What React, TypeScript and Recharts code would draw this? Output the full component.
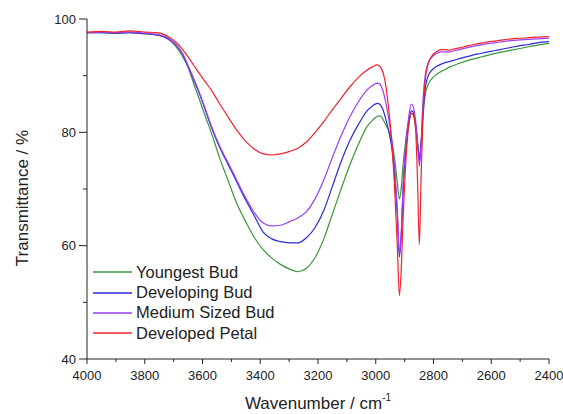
import { Line, LineChart, XAxis, YAxis } from "recharts";

// wavenumber grid (cm-1), shared by all four spectra
const wavenumbers = [
  4000, 3950, 3900, 3850, 3800, 3760, 3730, 3710, 3690, 3670,
  3650, 3630, 3610, 3590, 3570, 3540, 3510, 3480, 3450, 3420,
  3390, 3360, 3330, 3300, 3270, 3240, 3210, 3180, 3150, 3120,
  3090, 3060, 3030, 3010, 2995, 2985, 2975, 2965, 2955, 2945,
  2935, 2925, 2918, 2912, 2905, 2895, 2885, 2877, 2870, 2862,
  2855, 2849, 2843, 2836, 2828, 2818, 2805, 2790, 2775, 2760,
  2745, 2730, 2710, 2680, 2650, 2620, 2590, 2560, 2530, 2500,
  2470, 2440, 2400,
];

const youngestBud = [
  97.6, 97.6, 97.5, 97.6, 97.4, 97.2, 96.8, 96.1, 95.0, 93.5,
  91.5, 88.5, 85.7, 82.8, 80.0, 75.4, 71.3, 67.3, 64.2, 61.4,
  59.3, 57.8, 56.7, 55.9, 55.4, 56.0, 57.9, 61.2, 65.6, 70.0,
  74.2, 77.9, 81.0, 82.2, 82.8, 82.9, 82.3, 81.3, 80.3, 78.5,
  75.5, 71.0, 68.2, 70.0, 74.5, 79.0, 82.0, 83.3, 83.0, 81.0,
  78.0, 75.8, 78.0, 83.0, 86.8, 88.5, 89.5, 90.2, 90.7, 91.1,
  91.5, 91.8, 92.2, 92.7, 93.1, 93.5, 93.9, 94.2, 94.5, 94.8,
  95.1, 95.4, 95.7,
];

const developingBud = [
  97.6, 97.6, 97.5, 97.6, 97.4, 97.2, 96.8, 96.2, 95.3, 93.9,
  91.6, 89.2, 86.7, 83.9, 81.0, 77.3, 74.2, 71.1, 68.0, 65.2,
  62.4, 61.2, 60.7, 60.5, 60.5, 61.4, 63.2, 66.2, 70.5, 74.8,
  78.5, 81.4, 83.8, 84.7, 85.1, 84.9, 84.0, 82.3, 80.2, 77.5,
  72.5, 65.0, 58.0, 61.5, 70.0, 77.5, 81.8, 83.8, 83.6, 81.5,
  78.0, 75.0, 78.0, 84.0, 88.0, 90.0, 91.0, 91.6, 92.0, 92.3,
  92.5, 92.7, 93.0, 93.4, 93.8, 94.1, 94.4, 94.7, 95.0, 95.3,
  95.5, 95.8, 96.0,
];

const mediumSizedBud = [
  97.6, 97.7, 97.6, 97.7, 97.5, 97.3, 96.9, 96.3, 95.4, 94.0,
  91.8, 89.4, 86.9, 84.1, 81.2, 77.5, 74.5, 71.4, 68.4, 65.8,
  64.0, 63.5, 63.6, 64.2, 64.9, 66.0, 68.3, 71.6, 75.6, 79.4,
  82.7, 85.4, 87.5, 88.3, 88.7, 88.5, 87.3, 85.2, 82.4, 79.0,
  74.0, 66.0, 58.5, 62.0, 71.0, 78.5, 83.0, 85.0, 84.5, 82.0,
  78.0, 74.0, 78.0, 86.0, 90.3, 92.3, 93.3, 93.9, 94.2, 94.2,
  94.2, 94.4, 94.6, 95.0, 95.3, 95.6, 95.8, 96.0, 96.2, 96.3,
  96.4, 96.5, 96.6,
];

const developedPetal = [
  97.7, 97.8, 97.7, 97.9, 97.7, 97.6, 97.2, 96.6, 95.8, 94.7,
  93.3, 91.8, 90.3, 88.9, 87.5, 85.0, 82.6, 80.3, 78.4, 77.0,
  76.2, 76.0, 76.2, 76.6, 77.2, 78.3, 80.0, 81.9, 84.0, 86.0,
  88.0, 89.7, 91.0, 91.6, 91.9, 91.6, 90.6, 88.2, 84.0, 78.5,
  70.5, 59.5, 51.2, 55.5, 65.0, 75.5, 81.5, 83.4, 83.3, 80.5,
  71.0, 60.2, 72.0, 83.5, 89.5, 92.2, 93.5, 94.2, 94.6, 94.6,
  94.5, 94.7, 94.9, 95.3, 95.6, 95.9, 96.1, 96.3, 96.5, 96.6,
  96.7, 96.8, 96.9,
];

const xTicks = [4000, 3900, 3800, 3700, 3600, 3500, 3400, 3300, 3200, 3100, 3000, 2900, 2800, 2700, 2600, 2500, 2400];
const yTicks = [40, 50, 60, 70, 80, 90, 100];

const series = [
  { key: "young", name: "Youngest Bud", color: "#3a963a" },
  { key: "developing", name: "Developing Bud", color: "#2b2bd6" },
  { key: "medium", name: "Medium Sized Bud", color: "#9a3cf2" },
  { key: "petal", name: "Developed Petal", color: "#f2222c" },
];

const data = wavenumbers.map((wn, i) => ({
  wn,
  young: youngestBud[i],
  developing: developingBud[i],
  medium: mediumSizedBud[i],
  petal: developedPetal[i],
}));

const FONT = "'Liberation Sans', Arial, sans-serif";
const INK = "#222";

const YTick = (props: any) => {
  const { x, y, payload } = props;
  const major = payload.value % 20 === 0;
  return (
    <g>
      <line x1={x} x2={x - (major ? 8 : 4)} y1={y} y2={y} stroke={INK} />
      {major && (
        <text x={x - 11} y={y} dy={4.5} textAnchor="end" fontSize={13} fontFamily={FONT} fill={INK}>
          {payload.value}
        </text>
      )}
    </g>
  );
};

const XTick = (props: any) => {
  const { x, y, payload } = props;
  const major = payload.value % 200 === 0;
  return (
    <g>
      <line x1={x} x2={x} y1={y} y2={y + (major ? 5 : 3)} stroke={INK} />
      {major && (
        <text x={x} y={y + 20.5} textAnchor="middle" fontSize={13} fontFamily={FONT} fill={INK}>
          {payload.value}
        </text>
      )}
    </g>
  );
};

export default function App() {
  return (
    <div style={{ position: "absolute", left: 0, top: 0, width: 563, height: 414, background: "#fff" }}>
      <LineChart width={563} height={414} data={data} margin={{ top: 19, right: 14, bottom: 0, left: 0 }}>
        <XAxis
          dataKey="wn"
          type="number"
          domain={[2400, 4000]}
          reversed
          ticks={xTicks}
          interval={0}
          height={55}
          tickSize={0}
          tickMargin={0}
          tickLine={false}
          axisLine={{ stroke: INK }}
          tick={<XTick />}
          label={{
            content: (lp: any) => {
              const vb = lp.viewBox;
              return (
                <text x={vb.x + vb.width / 2} y={vb.y + vb.height - 5} textAnchor="middle" fontSize={17} fontFamily={FONT} fill={INK}>
                  Wavenumber / cm
                  <tspan fontSize={10} dy={-8}>-1</tspan>
                </text>
              );
            },
          }}
        />
        <YAxis
          type="number"
          domain={[40, 100]}
          ticks={yTicks}
          interval={0}
          width={87}
          tickSize={0}
          tickMargin={0}
          tickLine={false}
          axisLine={{ stroke: INK }}
          tick={<YTick />}
          label={{
            content: (lp: any) => {
              const vb = lp.viewBox;
              const cx = 22;
              const cy = vb.y + vb.height / 2 + 9;
              return (
                <text x={cx} y={cy} transform={`rotate(-90 ${cx} ${cy})`} textAnchor="middle" dominantBaseline="central" fontSize={17} fontFamily={FONT} fill={INK}>
                  Transmittance / %
                </text>
              );
            },
          }}
        />
        {series.map((s) => (
          <Line
            key={s.key}
            dataKey={s.key}
            name={s.name}
            stroke={s.color}
            strokeWidth={1.2}
            type="monotone"
            dot={false}
            isAnimationActive={false}
          />
        ))}
      </LineChart>
      <div style={{ position: "absolute", left: 92, top: 262, fontFamily: FONT, fontSize: 16.5, color: INK }}>
        {series.map((s) => (
          <div key={s.key} style={{ display: "flex", alignItems: "center", height: 20.4 }}>
            <svg width={44} height={10}>
              <line x1={1} x2={40} y1={5} y2={5} stroke={s.color} strokeWidth={1.5} />
            </svg>
            <span>{s.name}</span>
          </div>
        ))}
      </div>
    </div>
  );
}
